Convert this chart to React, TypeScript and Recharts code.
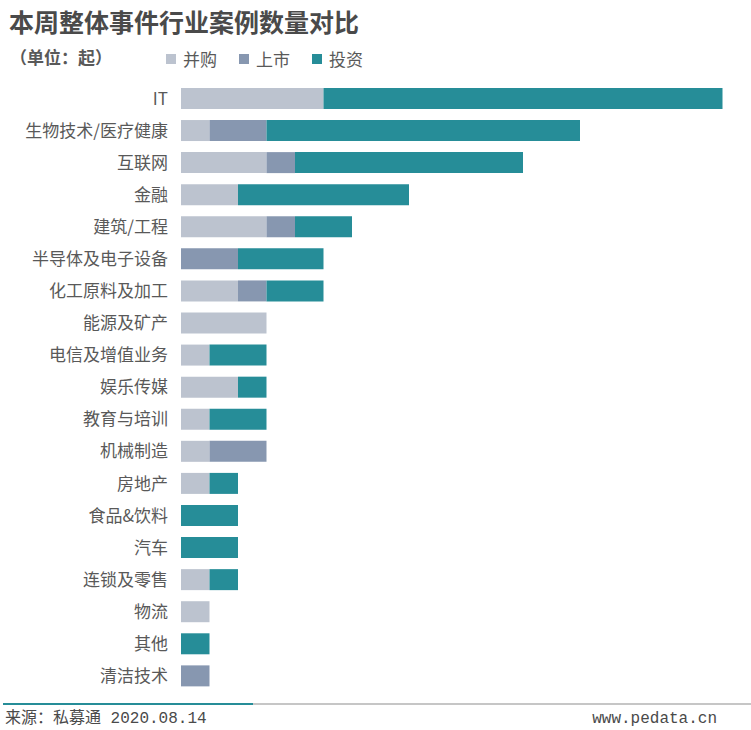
import { BarChart, Bar, XAxis, YAxis } from 'recharts';

const categories = [
  'IT',
  '生物技术/医疗健康',
  '互联网',
  '金融',
  '建筑/工程',
  '半导体及电子设备',
  '化工原料及加工',
  '能源及矿产',
  '电信及增值业务',
  '娱乐传媒',
  '教育与培训',
  '机械制造',
  '房地产',
  '食品&饮料',
  '汽车',
  '连锁及零售',
  '物流',
  '其他',
  '清洁技术',
];
const mergers = [5, 1, 3, 2, 3, 0, 2, 3, 1, 2, 1, 1, 1, 0, 0, 1, 1, 0, 0];
const listings = [0, 2, 1, 0, 1, 2, 1, 0, 0, 0, 0, 2, 0, 0, 0, 0, 0, 0, 1];
const investments = [14, 11, 8, 6, 2, 3, 2, 0, 2, 1, 2, 0, 1, 2, 2, 1, 0, 1, 0];

const data = categories.map((name, i) => ({
  name,
  merger: mergers[i],
  listing: listings[i],
  investment: investments[i],
}));

const FONT = '"Noto Sans CJK SC", "Noto Sans", sans-serif';
const TEXT = '#595959';

const series = [
  { key: 'merger', name: '并购', color: '#bcc3cf' },
  { key: 'listing', name: '上市', color: '#8797b0' },
  { key: 'investment', name: '投资', color: '#268d98' },
];

export default function App() {
  return (
    <div style={{ position: 'absolute', left: 0, top: 0, width: 751, height: 730, background: '#fff', fontFamily: FONT }}>
      <div style={{ position: 'absolute', left: 9, top: 3, fontSize: 25, fontWeight: 'bold', color: '#4a4a4a', lineHeight: '36px' }}>
        本周整体事件行业案例数量对比
      </div>
      <div style={{ position: 'absolute', left: 10, top: 44, fontSize: 17, fontWeight: 'bold', color: TEXT, lineHeight: '26px' }}>
        （单位：起）
      </div>
      <div style={{ position: 'absolute', left: 166, top: 49, display: 'flex', alignItems: 'center' }}>
        {series.map((s) => (
          <div key={s.key} style={{ display: 'flex', alignItems: 'center', marginRight: 22 }}>
            <span style={{ width: 10, height: 10, background: s.color, display: 'inline-block', marginRight: 7 }} />
            <span style={{ color: TEXT, fontSize: 17, lineHeight: '20px' }}>{s.name}</span>
          </div>
        ))}
      </div>
      <BarChart
        width={751}
        height={730}
        layout="vertical"
        data={data}
        margin={{ top: 82.5, right: 28.5, bottom: 38, left: 11 }}
        barCategoryGap="17%"
        style={{ fontFamily: FONT, position: 'absolute', left: 0, top: 0 }}
      >
        <XAxis type="number" domain={[0, 19]} hide />
        <YAxis
          type="category"
          dataKey="name"
          width={170}
          interval={0}
          axisLine={false}
          tickLine={false}
          tickMargin={7}
          tick={{ fill: TEXT, fontSize: 17 }}
        />
        {series.map((s) => (
          <Bar key={s.key} dataKey={s.key} name={s.name} stackId="a" fill={s.color} isAnimationActive={false} />
        ))}
      </BarChart>
      <div style={{ position: 'absolute', left: 3, top: 703, width: 250, height: 2, background: '#268d98' }} />
      <div style={{ position: 'absolute', left: 253, top: 703, width: 498, height: 2, background: '#c6c6c6' }} />
      <div
        style={{
          position: 'absolute',
          left: 5,
          top: 708,
          fontSize: 16,
          color: '#4a4a4a',
          lineHeight: '22px',
          fontFamily: '"Liberation Mono", "Noto Sans CJK SC", monospace',
        }}
      >
        来源：私募通 2020.08.14
      </div>
      <div
        style={{
          position: 'absolute',
          right: 34,
          top: 708,
          fontSize: 16,
          color: '#4a4a4a',
          lineHeight: '22px',
          fontFamily: '"Liberation Mono", monospace',
        }}
      >
        www.pedata.cn
      </div>
    </div>
  );
}
